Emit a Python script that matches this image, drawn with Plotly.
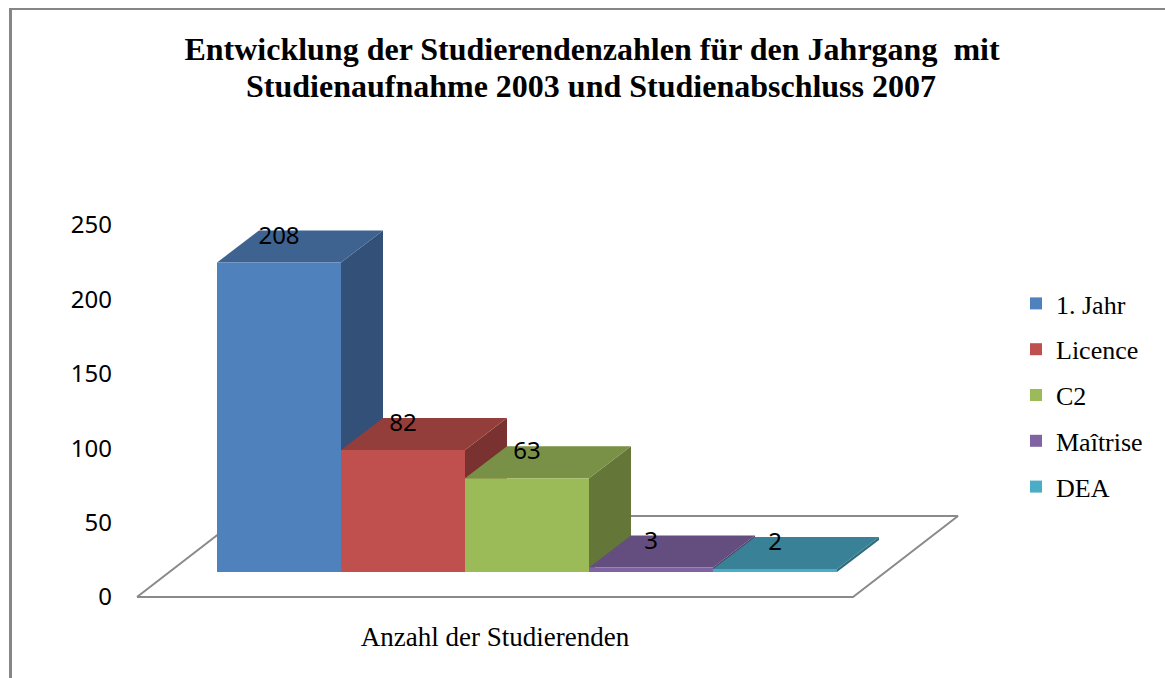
import plotly.graph_objects as go

# ---- data ----
series = ["1. Jahr", "Licence", "C2", "Maîtrise", "DEA"]
values = [208, 82, 63, 3, 2]
front_colors = ["#4F81BD", "#C0504D", "#9BBB59", "#8064A2", "#4BACC6"]
top_colors = ["#3E6391", "#943E3B", "#799146", "#634E7F", "#388196"]
side_colors = ["#325078", "#793230", "#647738", "#513F66", "#2F6C7D"]
y_ticks = [0, 50, 100, 150, 200, 250]
category = "Anzahl der Studierenden"
title_line1 = "Entwicklung der Studierendenzahlen für den Jahrgang&nbsp; mit"
title_line2 = "Studienaufnahme 2003 und Studienabschluss 2007"

# ---- layout geometry ----
W, H = 1165, 678
L, R, T, B = 116, 964, 220, 600      # plot area, pixels
X0_PX, UNIT_X = 217, 124             # pixel of x=0, pixels per bar
Y0_PX, UNIT_Y = 597, 1.488           # pixel of y=0, pixels per value unit
x_range = [(L - X0_PX) / UNIT_X, (R - X0_PX) / UNIT_X]
y_range = [(Y0_PX - B) / UNIT_Y, (Y0_PX - T) / UNIT_Y]

# 3-D projection, in axis units
BAR_DX, BAR_DY = 42 / UNIT_X, 32 / UNIT_Y        # bar depth
BASE = 25 / UNIT_Y                               # front of bars above front of floor
FLOOR_X = [-80 / UNIT_X, 636 / UNIT_X]           # floor front edge
FLOOR_DX, FLOOR_DY = 105 / UNIT_X, 81 / UNIT_Y   # floor depth
LABEL_DY = 25 / UNIT_Y                           # label centre above bar front top

fig = go.Figure()

# floor
fig.add_trace(go.Scatter(
    x=[FLOOR_X[0], FLOOR_X[1], FLOOR_X[1] + FLOOR_DX, FLOOR_X[0] + FLOOR_DX, FLOOR_X[0]],
    y=[0, 0, FLOOR_DY, FLOOR_DY, 0],
    mode="lines", line=dict(color="#8A8A8A", width=2),
    showlegend=False, hoverinfo="skip", cliponaxis=False))

# side and top faces, left to right
for i, v in enumerate(values):
    top = BASE + v
    fig.add_trace(go.Scatter(
        x=[i + 1, i + 1 + BAR_DX, i + 1 + BAR_DX, i + 1, i + 1],
        y=[BASE, BASE + BAR_DY, top + BAR_DY, top, BASE],
        mode="none", fill="toself", fillcolor=side_colors[i],
        showlegend=False, hoverinfo="skip"))
    fig.add_trace(go.Scatter(
        x=[i, i + BAR_DX, i + 1 + BAR_DX, i + 1, i],
        y=[top, top + BAR_DY, top + BAR_DY, top, top],
        mode="none", fill="toself", fillcolor=top_colors[i],
        showlegend=False, hoverinfo="skip"))

# front faces on an overlaying subplot so they cover the faces behind them
for i, (name, v) in enumerate(zip(series, values)):
    fig.add_trace(go.Bar(
        x=[i + 0.5], y=[v], base=BASE, width=1, name=name,
        marker=dict(color=front_colors[i], line=dict(width=0)),
        xaxis="x2", yaxis="y2", legendgroup=name))

# value labels
fig.add_trace(go.Scatter(
    x=[i + 0.5 for i in range(len(values))],
    y=[BASE + v + LABEL_DY for v in values],
    mode="text", text=[str(v) for v in values], textposition="middle center",
    textfont=dict(family="Noto Sans", size=24, color="#000000"),
    xaxis="x2", yaxis="y2", showlegend=False, hoverinfo="skip"))


def paper_x(px):
    return (px - L) / (R - L)


def paper_y(py):
    return (B - py) / (B - T)


title_font = dict(family="Liberation Serif", size=32, color="#000000", weight=700)

fig.update_layout(
    width=W, height=H,
    margin=dict(l=L, r=W - R, t=T, b=H - B, pad=0),
    paper_bgcolor="#FFFFFF", plot_bgcolor="#FFFFFF",
    barmode="overlay",
    showlegend=True,
    title=dict(text=title_line1, x=592 / W, xanchor="center", y=1 - 38 / H, yanchor="top",
               font=title_font),
    annotations=[dict(text=title_line2, xref="paper", yref="paper",
                      x=paper_x(591), y=paper_y(86), xanchor="center", yanchor="middle",
                      showarrow=False, font=title_font)],
    xaxis=dict(range=x_range, tickmode="array", tickvals=[(495 - X0_PX) / UNIT_X],
               ticktext=[category], showgrid=False, zeroline=False, showline=False,
               ticks="outside", ticklen=13, tickcolor="rgba(0,0,0,0)",
               tickfont=dict(family="Liberation Serif", size=27, color="#000000")),
    yaxis=dict(range=y_range, tickmode="array", tickvals=y_ticks, showgrid=False,
               zeroline=False, showline=False, ticks="", ticklabelstandoff=3,
               tickfont=dict(family="Noto Sans", size=24, color="#000000")),
    xaxis2=dict(range=x_range, overlaying="x", visible=False),
    yaxis2=dict(range=y_range, overlaying="y", visible=False),
    legend=dict(x=paper_x(1016), xanchor="left", y=paper_y(280), yanchor="top",
                tracegroupgap=9, bgcolor="rgba(0,0,0,0)",
                font=dict(family="Liberation Serif", size=26, color="#000000")),
    shapes=[
        dict(type="line", xref="paper", yref="paper",
             x0=paper_x(10.5), x1=paper_x(10.5), y0=paper_y(H + 5), y1=paper_y(8),
             line=dict(color="#868686", width=3)),
        dict(type="line", xref="paper", yref="paper",
             x0=paper_x(9), x1=paper_x(W + 5), y0=paper_y(9), y1=paper_y(9),
             line=dict(color="#868686", width=2)),
    ],
)

fig.write_html("out.html", config=dict(displayModeBar=False),
               post_script="document.body.style.margin='0';document.documentElement.style.overflow='hidden';")
